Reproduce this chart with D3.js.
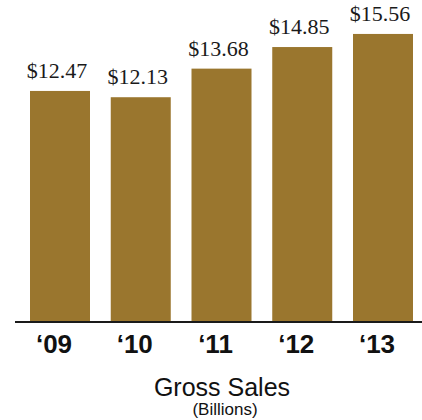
<!DOCTYPE html>
<html>
<head>
<meta charset="utf-8">
<script src="https://cdn.jsdelivr.net/npm/d3@7"></script>
<style>
  html, body { margin: 0; padding: 0; background: #fff; }
  svg { display: block; }
</style>
</head>
<body>
<svg></svg>
<script>
const years = ["\u201809", "\u201810", "\u201811", "\u201812", "\u201813"];
const sales = [12.47, 12.13, 13.68, 14.85, 15.56];
const valueLabels = ["$12.47", "$12.13", "$13.68", "$14.85", "$15.56"];

const width = 422;
const height = 420;
const baseline = 321;

const svg = d3.select("svg")
    .attr("width", width)
    .attr("height", height);

const x = d3.scaleBand()
    .domain(years)
    .range([30, 413])
    .paddingInner(0.257)
    .paddingOuter(0);

const y = d3.scaleLinear()
    .domain([0, 17.4])
    .range([baseline, 0]);

const data = years.map((yr, i) => ({ year: yr, value: sales[i], label: valueLabels[i] }));

svg.selectAll(".bar")
    .data(data)
    .enter().append("rect")
    .attr("class", "bar")
    .attr("x", d => x(d.year))
    .attr("y", d => y(d.value))
    .attr("width", x.bandwidth())
    .attr("height", d => y(0) - y(d.value))
    .attr("fill", "#9a762e");

svg.selectAll(".value")
    .data(data)
    .enter().append("text")
    .attr("class", "value")
    .attr("x", d => x(d.year) + x.bandwidth() / 2 - 3)
    .attr("y", d => y(d.value) - 13)
    .attr("text-anchor", "middle")
    .style("font-family", "'Liberation Serif', serif")
    .style("font-size", "22px")
    .style("fill", "#1a1a1a")
    .text(d => d.label);

// baseline runs wider than the bars
svg.append("line")
    .attr("x1", 15)
    .attr("x2", width)
    .attr("y1", baseline + 1)
    .attr("y2", baseline + 1)
    .attr("stroke", "#1a1a1a")
    .attr("stroke-width", 2);

const xAxis = svg.append("g")
    .attr("transform", `translate(0,${baseline + 1})`)
    .call(d3.axisBottom(x).tickSize(0));

xAxis.select(".domain").remove();
xAxis.selectAll("text")
    .attr("x", -6)
    .attr("y", 31)
    .attr("dy", 0)
    .style("font-family", "'Liberation Sans', Arial, sans-serif")
    .style("font-size", "26px")
    .style("font-weight", "bold")
    .style("fill", "#111");

svg.append("text")
    .attr("x", 222)
    .attr("y", 396)
    .attr("text-anchor", "middle")
    .style("font-family", "'Liberation Sans', Arial, sans-serif")
    .style("font-size", "25px")
    .style("fill", "#111")
    .text("Gross Sales");

svg.append("text")
    .attr("x", 225)
    .attr("y", 415)
    .attr("text-anchor", "middle")
    .style("font-family", "'Liberation Sans', Arial, sans-serif")
    .style("font-size", "17px")
    .style("fill", "#111")
    .text("(Billions)");
</script>
</body>
</html>
